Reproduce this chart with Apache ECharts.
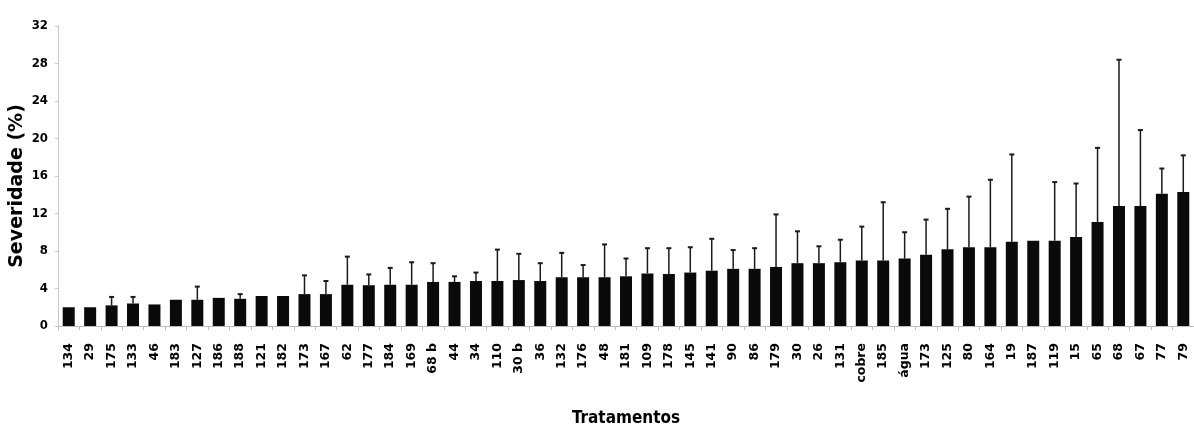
<!DOCTYPE html>
<html>
<head>
<meta charset="utf-8">
<script src="https://cdn.jsdelivr.net/npm/echarts@6/dist/echarts.min.js"></script>
<style>
  html, body { margin: 0; padding: 0; background: #fff; }
  #chart { width: 1194px; height: 435px; }
</style>
</head>
<body>
<div id="chart"></div>
<script>
const categories = ['134','29','175','133','46','183','127','186','188','121','182','173','167','62','177','184','169','68 b','44','34','110','30 b','36','132','176','48','181','109','178','145','141','90','86','179','30','26','131','cobre','185','água','173','125','80','164','19','187','119','15','65','68','67','77','79'];

const severity = [2.0,2.0,2.2,2.4,2.3,2.8,2.8,3.0,2.9,3.2,3.2,3.4,3.4,4.4,4.35,4.4,4.4,4.7,4.7,4.8,4.8,4.9,4.8,5.2,5.2,5.2,5.3,5.6,5.55,5.7,5.9,6.1,6.1,6.3,6.7,6.7,6.8,7.0,7.0,7.2,7.6,8.2,8.4,8.4,9.0,9.1,9.1,9.5,11.1,12.8,12.8,14.1,14.3];

const errorTop = [2.0,2.0,3.1,3.1,2.3,2.8,4.2,3.0,3.4,3.2,3.2,5.4,4.8,7.4,5.5,6.2,6.8,6.7,5.3,5.7,8.15,7.7,6.7,7.8,6.5,8.7,7.2,8.3,8.3,8.4,9.3,8.1,8.3,11.9,10.1,8.5,9.2,10.6,13.2,10.0,11.35,12.5,13.8,15.6,18.3,9.1,15.35,15.2,19.0,28.4,20.9,16.8,18.2];

const yTicks = [0, 4, 8, 12, 16, 20, 24, 28, 32];

const errData = categories.map((c, i) => [i, severity[i], errorTop[i]]);

const chart = echarts.init(document.getElementById('chart'), null, { renderer: 'canvas' });

chart.setOption({
  animation: false,
  backgroundColor: '#ffffff',
  grid: { left: 58, right: 0, top: 26, bottom: 109, containLabel: false, outerBoundsMode: 'none' },
  xAxis: {
    type: 'category',
    data: categories,
    name: 'Tratamentos',
    nameLocation: 'middle',
    nameGap: 84,
    nameMoveOverlap: false,
    nameTextStyle: {
      fontFamily: '"DejaVu Sans Condensed", "Liberation Sans Narrow", sans-serif',
      fontWeight: 'bold',
      fontSize: 17,
      color: '#000'
    },
    axisLine: { lineStyle: { color: '#bdbdbd', width: 1 } },
    axisTick: { show: true, length: 4, lineStyle: { color: '#bdbdbd' } },
    axisLabel: {
      interval: 0,
      rotate: 90,
      margin: 17,
      fontFamily: '"DejaVu Sans", sans-serif',
      fontWeight: 'bold',
      fontSize: 12.5,
      color: '#000'
    }
  },
  yAxis: {
    type: 'value',
    min: yTicks[0],
    max: yTicks[yTicks.length - 1],
    interval: 4,
    name: 'Severidade (%)',
    nameLocation: 'middle',
    nameGap: 31,
    nameMoveOverlap: false,
    nameRotate: 90,
    nameTextStyle: {
      fontFamily: '"DejaVu Sans", sans-serif',
      fontWeight: 'bold',
      fontSize: 19,
      color: '#000',
      padding: [0, 20, 0, 0]
    },
    axisLine: { show: true, lineStyle: { color: '#c8c8c8', width: 1 } },
    axisTick: { show: true, length: 3, lineStyle: { color: '#c8c8c8' } },
    splitLine: { show: false },
    axisLabel: {
      margin: 10,
      fontFamily: '"DejaVu Sans Condensed", "Liberation Sans Narrow", sans-serif',
      fontWeight: 'bold',
      fontSize: 13,
      color: '#000'
    }
  },
  series: [
    {
      type: 'bar',
      data: severity,
      barWidth: 12,
      itemStyle: { color: '#0a0a0a' }
    },
    {
      type: 'custom',
      data: errData,
      encode: { x: 0, y: [1, 2] },
      z: 3,
      renderItem: function (params, api) {
        const idx = api.value(0);
        const lo = api.coord([idx, api.value(1)]);
        const hi = api.coord([idx, api.value(2)]);
        if (lo[1] - hi[1] < 1) return { type: 'group', children: [] };
        return {
          type: 'group',
          children: [
            { type: 'line', shape: { x1: lo[0], y1: lo[1], x2: hi[0], y2: hi[1] }, style: { stroke: '#1a1a1a', lineWidth: 1.5 } },
            { type: 'line', shape: { x1: hi[0] - 2.5, y1: hi[1], x2: hi[0] + 2.5, y2: hi[1] }, style: { stroke: '#1a1a1a', lineWidth: 2 } }
          ]
        };
      }
    }
  ]
});
</script>
</body>
</html>
